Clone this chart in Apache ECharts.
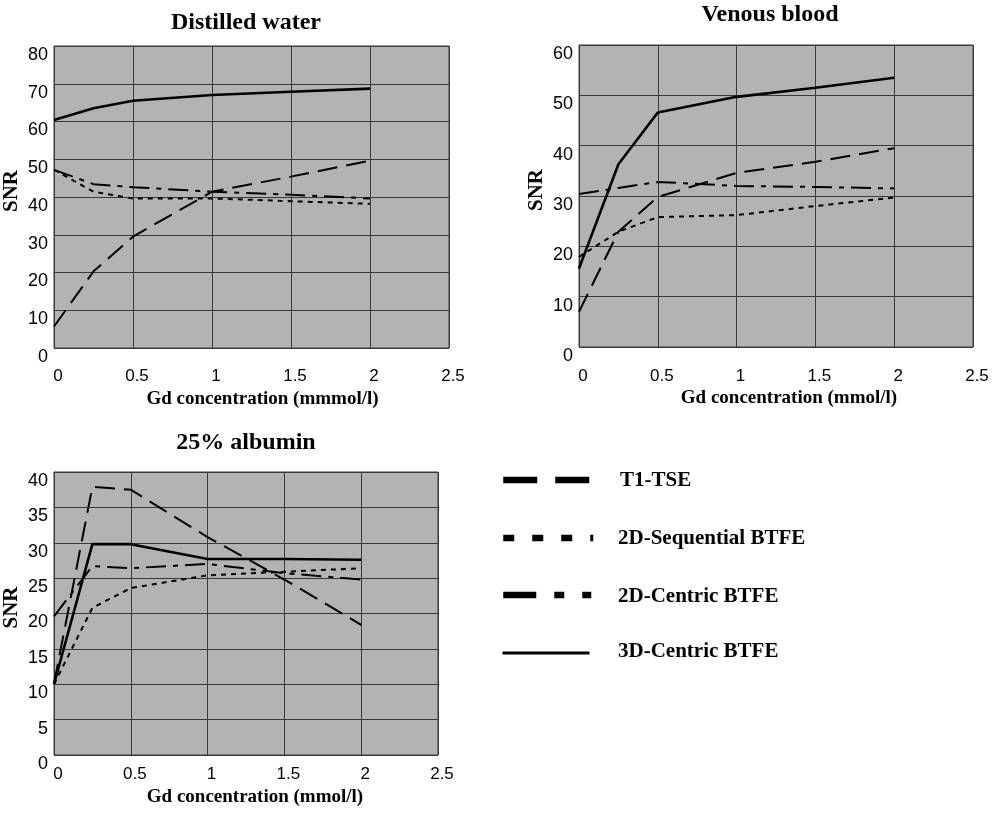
<!DOCTYPE html>
<html><head><meta charset="utf-8">
<script src="https://cdn.jsdelivr.net/npm/echarts@6/dist/echarts.min.js"></script>
<style>html,body{margin:0;padding:0;background:#fff}#c{width:995px;height:815px}</style>
</head><body><div id="c"></div>
<script>
// ---- data ----
var concentrations = [0, 0.25, 0.5, 1, 1.5, 2];
var seriesNames = ['T1-TSE', '2D-Sequential BTFE', '2D-Centric BTFE', '3D-Centric BTFE'];
var xTicks = ['0', '0.5', '1', '1.5', '2', '2.5'];

var waterT1TSE   = [5.7, 20.3, 29.5, 41.4, 45.4, 49.6];
var waterSeq     = [47.2, 41.4, 39.6, 39.6, 38.9, 38.2];
var waterCentric = [47.2, 43.4, 42.6, 41.4, 40.6, 39.6];
var water3D      = [60.4, 63.5, 65.5, 67.0, 67.9, 68.7];

var bloodT1TSE   = [7.0, 22.9, 29.8, 34.6, 36.8, 39.5];
var bloodSeq     = [17.9, 22.9, 25.8, 26.2, 28.0, 29.7];
var bloodCentric = [30.4, 31.6, 32.8, 32.0, 31.8, 31.5];
var blood3D      = [15.6, 36.3, 46.6, 49.7, 51.5, 53.5];

var albT1TSE   = [10.1, 37.9, 37.5, 30.8, 24.8, 18.4];
var albSeq     = [10.0, 20.8, 23.6, 25.4, 25.9, 26.4];
var albCentric = [19.6, 26.7, 26.4, 27.0, 25.7, 24.8];
var alb3D      = [10.0, 29.8, 29.8, 27.7, 27.7, 27.6];

var titles = ['Distilled water', 'Venous blood', '25% albumin'];
var xNames = ['Gd concentration (mmmol/l)', 'Gd concentration (mmol/l)', 'Gd concentration (mmol/l)'];
var yMax = [80, 60, 40];
var yStep = [10, 10, 5];

// ---- styles ----
var serif = '"Liberation Serif","Times New Roman",serif';
var sans = '"Liberation Sans",Arial,sans-serif';
var dashes = [[20, 9], [5, 5], [20, 7, 5, 7], null];
var widths = [2, 2, 2, 2.6];

var panels = [
  {left: 54, top: 46, width: 395, height: 302, data: [waterT1TSE, waterSeq, waterCentric, water3D], labMargin: 20, nameGap: 42, nameShift: 22},
  {left: 579, top: 45, width: 394, height: 302, data: [bloodT1TSE, bloodSeq, bloodCentric, blood3D], labMargin: 21, nameGap: 42, nameShift: 26},
  {left: 52, top: 472, width: 386, height: 283, data: [albT1TSE, albSeq, albCentric, alb3D], labMargin: 11, nameGap: 33, nameShift: 18}
];

function pairs(vals) { return concentrations.map(function (x, i) { return [x, vals[i]]; }); }

var grid = [], xAxis = [], yAxis = [], series = [];
panels.forEach(function (p, k) {
  grid.push({left: p.left, top: p.top, width: p.width, height: p.height, show: true,
    backgroundColor: '#b3b3b3', borderColor: '#3a3a3a', borderWidth: 1});
  xAxis.push({type: 'value', gridIndex: k, min: 0, max: 2.5, interval: 0.5,
    axisLine: {show: false}, axisTick: {show: false},
    splitLine: {show: true, lineStyle: {color: '#3a3a3a', width: 1}},
    axisLabel: {color: '#000', fontFamily: sans, fontSize: 17, margin: p.labMargin, padding: [0, 0, 0, 8],
      formatter: function (v) { return xTicks[Math.round(v / 0.5)]; }},
    name: xNames[k], nameLocation: 'middle', nameGap: p.nameGap,
    nameTextStyle: {color: '#000', fontFamily: serif, fontWeight: 'bold', fontSize: 19, padding: [0, 0, 0, p.nameShift]}});
  yAxis.push({type: 'value', gridIndex: k, min: 0, max: yMax[k], interval: yStep[k],
    axisLine: {show: false}, axisTick: {show: false},
    splitLine: {show: true, lineStyle: {color: '#3a3a3a', width: 1}},
    axisLabel: {color: '#000', fontFamily: sans, fontSize: 18, margin: 6, verticalAlign: 'top'},
    name: 'SNR', nameLocation: 'middle', nameGap: 32,
    nameTextStyle: {color: '#000', fontFamily: serif, fontWeight: 'bold', fontSize: 21, padding: [0, 0, 0, 12]}});
  p.data.forEach(function (vals, j) {
    series.push({type: 'line', name: seriesNames[j], xAxisIndex: k, yAxisIndex: k,
      data: pairs(vals), showSymbol: false, symbol: 'none', silent: true, animation: false,
      lineStyle: {color: '#000', width: widths[j], type: dashes[j] || 'solid'}});
  });
});

var title = [
  {text: titles[0], left: 241, top: 6, textAlign: 'center'},
  {text: titles[1], left: 765, top: -2, textAlign: 'center'},
  {text: titles[2], left: 241, top: 426, textAlign: 'center'}
].map(function (t) {
  t.textStyle = {color: '#000', fontFamily: serif, fontWeight: 'bold', fontSize: 24};
  return t;
});

// legend drawn as graphics
var legendY = [480, 538, 595, 652];
var legendDash = [[34, 18], [11, 18], [33, 18, 10, 18], null];
var legendLen = [87, 90, 88, 87];
var legendW = [6.5, 6.5, 6.5, 3];
var legendTextX = [620, 618, 618, 618];
var legendTextY = [482, 540, 598, 653];
var graphic = [];
seriesNames.forEach(function (n, i) {
  graphic.push({type: 'line', left: 500, top: legendY[i] - legendW[i] / 2,
    shape: {x1: 0, y1: 0, x2: legendLen[i], y2: 0},
    style: {stroke: '#000', lineWidth: legendW[i], lineDash: legendDash[i] || null}});
  graphic.push({type: 'text', left: legendTextX[i], top: legendTextY[i] - 12,
    style: {text: n, fill: '#000', font: 'bold 21px ' + serif}});
});

var chart = echarts.init(document.getElementById('c'));
chart.setOption({animation: false, title: title, grid: grid, xAxis: xAxis, yAxis: yAxis, series: series, graphic: graphic});
</script></body></html>
